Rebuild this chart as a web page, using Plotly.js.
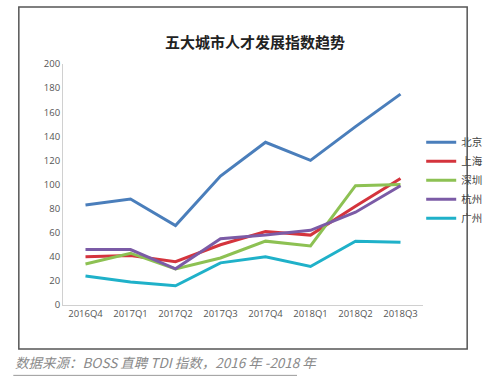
<!DOCTYPE html>
<html>
<head>
<meta charset="utf-8">
<script src="https://cdn.plot.ly/plotly-3.0.1.min.js"></script>
<style>
html,body{margin:0;padding:0;background:#fff;}
#chart{width:500px;height:378px;}
</style>
</head>
<body>
<div id="chart"></div>
<script>
var categories = ["2016Q4","2017Q1","2017Q2","2017Q3","2017Q4","2018Q1","2018Q2","2018Q3"];
var beijing   = [83, 88, 66, 107, 135, 120, 148, 175];
var shanghai  = [40, 41, 36, 50, 61, 58, 82, 105];
var shenzhen  = [34, 43, 30, 39, 53, 49, 99, 100];
var hangzhou  = [46, 46, 30, 55, 58, 62, 77, 99];
var guangzhou = [24, 19, 16, 35, 40, 32, 53, 52];
var seriesNames = ["北京","上海","深圳","杭州","广州"];
var seriesColors = ["#4a7ebb","#d4343d","#8dc153","#7b5ba6","#1fb1c9"];
var seriesData = [beijing, shanghai, shenzhen, hangzhou, guangzhou];
var yTicks = [0,20,40,60,80,100,120,140,160,180,200];

var traces = seriesData.map(function(d,i){
  return {x: categories, y: d, type:'scatter', mode:'lines', name: seriesNames[i],
          line:{color: seriesColors[i], width:3}};
});

var cjk = '"Noto Sans CJK SC", "Noto Sans", sans-serif';
var layout = {
  width:500, height:378,
  margin:{l:63, r:54, t:64, b:73},
  paper_bgcolor:'#fff', plot_bgcolor:'#fff',
  showlegend:true,
  title:{text:'<b>五大城市人才发展指数趋势</b>', x:0.51, xanchor:'center', y:0.886, yanchor:'middle',
         font:{family:cjk, size:15, color:'#222'}},
  xaxis:{type:'category', range:[-0.5,7.5], showgrid:false, zeroline:false,
         showline:true, linecolor:'#d0d0d0', linewidth:1, ticks:'',
         tickfont:{family:'"Open Sans", sans-serif', size:9.5, color:'#555'}},
  yaxis:{range:[0,200], tickvals:yTicks, showgrid:false, zeroline:false,
         showline:true, linecolor:'#d0d0d0', linewidth:1, ticks:'', ticklen:0,
         tickfont:{family:'"Open Sans", sans-serif', size:9.5, color:'#555'}},
  legend:{x:0.995, xanchor:'left', y:0.735, yanchor:'top', bgcolor:'rgba(0,0,0,0)',
          font:{family:cjk, size:10.5, color:'#444'}, tracegroupgap:0},
  shapes:[
    {type:'rect', xref:'paper', yref:'paper', x0:-0.1227, x1:1.1227, y0:-0.1826, y1:1.2365,
     line:{color:'#555', width:1.5}, fillcolor:'rgba(0,0,0,0)'},
    {type:'line', xref:'paper', yref:'paper', x0:-0.138, x1:0.65, y0:-0.292, y1:-0.292,
     line:{color:'#999', width:1}}
  ],
  annotations:[
    {text:'<i>数据来源：BOSS 直聘 TDI 指数，2016 年 -2018 年</i>', xref:'paper', yref:'paper',
     x:-0.138, xanchor:'left', y:-0.2365, yanchor:'middle', showarrow:false,
     font:{family:cjk, size:13.5, color:'#8a8a8a'}}
  ]
};
Plotly.newPlot('chart', traces, layout, {displayModeBar:false, staticPlot:true});
</script>
</body>
</html>
